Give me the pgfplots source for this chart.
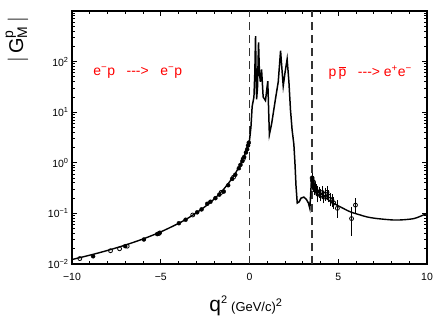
\documentclass[border=0pt]{standalone}
\usepackage{fontspec}
\setmainfont{Liberation Sans}
\usepackage{pgfplots}
\pgfplotsset{compat=1.18}
\begin{document}
\begin{tikzpicture}
\begin{axis}[
  scale only axis, width=355bp, height=253bp,
  xmin=-10, xmax=10, ymode=log, ymin=0.01, ymax=1000,
  xtick={-10,-5,0,5,10}, xticklabels={−10,−5,0,5,10},
  minor xtick={-9,-8,-7,-6,-4,-3,-2,-1,1,2,3,4,6,7,8,9},
  ytick={0.01,0.1,1,10,100,1000},
  yticklabels={10\textsuperscript{−2},10\textsuperscript{−1},10\textsuperscript{0},10\textsuperscript{1},10\textsuperscript{2},{}},
  tick align=inside, xtick pos=both, ytick pos=both,
  major tick length=5bp, minor tick length=3bp,
  axis line style={line width=1.3pt},
  every tick/.style={black, line width=0.9pt},
  tick label style={font=\fontsize{10.5}{12}\selectfont},
  xticklabel style={yshift=-6bp},
  xlabel={\fontsize{21}{22}\selectfont q\textsuperscript{\fontsize{11}{11}\selectfont 2}\,{\fontsize{13}{13}\selectfont (GeV/c)\textsuperscript{\fontsize{11}{11}\selectfont 2}}},
  xlabel style={at={(axis description cs:0.49,-0.165)}, anchor=center},
  ylabel={\fontsize{20}{22}\selectfont $|$\,G$^{\mathrm{p}}_{\mathrm{M}}$\,$|$},
  ylabel style={at={(axis description cs:-0.155,0.885)}, anchor=center},
  clip=true,
]
% dashed lines
\addplot[black!80, line width=1.5pt, dash pattern=on 8bp off 5bp] coordinates {(0,0.01) (0,1000)};
\addplot[black!80, line width=1.5pt, dash pattern=on 8bp off 5bp] coordinates {(3.52,0.01) (3.52,1000)};
% spacelike fit
\addplot[black, line width=1.4pt, smooth] coordinates {
(-10,0.01226) (-9,0.01492) (-8,0.01854) (-7,0.02366) (-6,0.03124) (-5,0.04314)
(-4,0.0634) (-3.5,0.0793) (-3,0.1022) (-2.5,0.1365) (-2,0.1915) (-1.5,0.2879)
(-1,0.481) (-0.75,0.660) (-0.5,0.961) (-0.25,1.526) (0,2.79)};
% unphysical region
\addplot[black, line width=1.5pt] coordinates {
(0,2.79) (0.08,5) (0.15,13) (0.25,20) (0.30,60) (0.34,320) (0.37,60) (0.40,18) (0.45,30)
(0.51,240) (0.56,60) (0.61,40) (0.68,70) (0.77,20) (0.9,17) (1.03,41) (1.09,8) (1.12,3.6)
(1.25,6) (1.46,18) (1.62,40) (1.75,164) (1.9,33) (2.0,60) (2.12,112) (2.22,40) (2.31,11)
(2.4,4.5) (2.5,2.3) (2.56,1.0) (2.62,0.35) (2.69,0.16) (2.8,0.17) (2.9,0.2) (3.06,0.21)
(3.2,0.19) (3.32,0.16) (3.40,0.125) (3.46,0.3) (3.52,0.55)};
% timelike fit
\addplot[black, line width=1.4pt, smooth] coordinates {
(3.52,0.55) (3.65,0.36) (3.8,0.29) (4.0,0.25) (4.4,0.19) (4.75,0.158) (5.2,0.13)
(5.69,0.107) (6.2,0.094) (6.63,0.085) (7.2,0.079) (8.13,0.074) (8.7,0.075) (9.26,0.079)
(9.6,0.087) (10,0.1)};
% spacelike data, filled
\addplot[only marks, mark=*, mark size=2pt, mark options={fill=black}] coordinates {
(-8.81,0.0142) (-7.0,0.0225) (-5.95,0.0305) (-5.2,0.039) (-5.05,0.0415) (-3.98,0.064)
(-3.6,0.075) (-2.95,0.105) (-2.7,0.12) (-2.38,0.155) (-2.2,0.17) (-1.92,0.2) (-1.7,0.235)
(-1.45,0.27) (-1.2,0.36) (-0.98,0.48) (-0.8,0.58) (-0.6,0.78) (-0.51,0.91) (-0.4,1.08)
(-0.3,1.3) (-0.2,1.6) (-0.13,1.85) (-0.08,2.2) (-0.04,2.5)};
% spacelike data, open
\addplot[only marks, mark=o, mark size=2pt, mark options={fill=white, line width=0.8pt}] coordinates {
(-9.56,0.0128) (-7.83,0.0183) (-7.32,0.02) (-6.89,0.0225) (-5.11,0.04) (-3.2,0.093)
(-1.6,0.26) (-0.9,0.52) (-0.35,1.2)};
% timelike data with errors
\addplot[only marks, mark=o, mark size=2pt, mark options={fill=white, line width=0.8pt},
  error bars/.cd, y dir=both, y explicit, error bar style={line width=0.8pt}, error mark options={mark size=3pt, line width=0.8pt}]
  table[x=x, y=y, y error=e] {
x y e
3.53 0.50 0.05
3.55 0.44 0.05
3.57 0.38 0.04
3.60 0.42 0.05
3.62 0.35 0.04
3.65 0.31 0.04
3.70 0.33 0.04
3.75 0.29 0.04
3.80 0.27 0.04
3.85 0.24 0.05
3.92 0.26 0.03
4.00 0.23 0.03
4.10 0.26 0.04
4.18 0.21 0.03
4.28 0.24 0.04
4.37 0.26 0.04
4.45 0.22 0.03
4.55 0.19 0.03
4.65 0.18 0.03
4.75 0.16 0.02
4.95 0.126 0.033
5.97 0.146 0.028
5.75 0.079 0.038
};
\node[red, font=\fontsize{14}{16}\selectfont] at (axis cs:-6.3,61) {e\textsuperscript{−}p\ \ \ {-}{-}{-}>\ \ \ e\textsuperscript{−}p};
\node[red, font=\fontsize{14}{16}\selectfont] at (axis cs:6.8,61) {p\,$\overline{\hbox{p}}$\ \ \ {-}{-}{-}>\ e\textsuperscript{+}e\textsuperscript{−}};
\end{axis}
\pgfresetboundingbox
\path ([shift={(-72bp,-54bp)}]current axis.south west) rectangle ([shift={(9bp,11bp)}]current axis.north east);
\end{tikzpicture}
\end{document}
